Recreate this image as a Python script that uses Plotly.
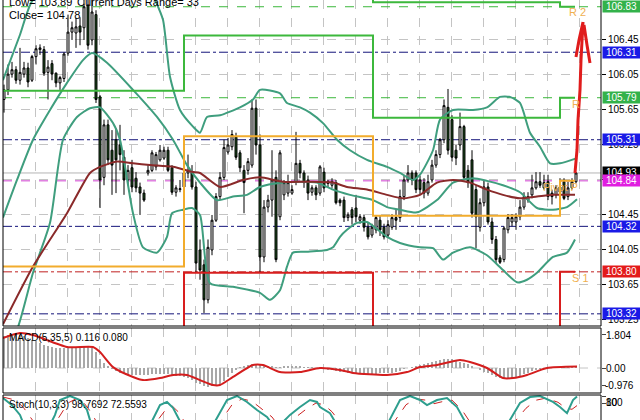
import plotly.graph_objects as go

# ---------------- data ----------------
bar_idx = list(range(144))
opens = [105.77,105.88,106.06,106.11,105.99,106.06,106.13,105.99,106.26,106.34,
         106.34,106.08,106.18,106.07,105.96,106.01,106.30,106.54,106.53,106.61,
         106.59,106.85,106.45,106.74,105.80,104.88,105.48,105.19,105.31,105.25,
         105.11,104.85,104.99,104.87,104.77,104.70,104.93,104.96,105.00,105.08,
         105.10,105.19,104.99,104.71,104.74,104.77,104.93,104.94,104.77,104.05,
         103.88,103.48,104.05,104.39,104.66,104.88,105.17,105.23,105.34,105.16,
         104.96,104.96,105.02,105.67,105.25,103.97,104.54,104.62,104.88,104.43,
         104.68,104.70,104.70,104.83,105.04,104.93,104.85,104.71,104.76,104.70,
         104.94,104.81,104.79,104.82,104.62,104.62,104.42,104.51,104.53,104.39,
         104.42,104.31,104.22,104.28,104.39,104.31,104.22,104.31,104.42,104.42,
         104.66,104.85,104.93,104.93,104.85,104.82,104.70,104.85,105.02,105.14,
         105.31,105.68,105.54,105.19,105.25,105.46,104.96,105.08,104.74,104.31,
         104.59,104.77,104.37,104.17,103.96,103.94,104.28,104.37,104.37,104.43,
         104.54,104.62,104.68,104.76,104.83,104.76,104.83,104.70,104.68,104.71,
         104.83,104.66,104.76,104.83]
highs = [105.94,106.17,106.20,106.15,106.36,106.20,106.19,106.28,106.39,106.40,
         106.38,106.22,106.22,106.08,106.04,106.31,106.74,106.66,106.70,106.71,
         106.96,107.00,106.96,106.79,105.82,105.54,105.54,105.42,105.44,105.48,
         105.19,105.02,105.08,104.94,104.82,104.74,105.02,105.19,105.17,105.25,
         105.23,105.23,105.02,104.79,104.85,105.02,105.14,105.02,104.83,104.17,
         103.94,104.17,104.45,104.70,104.94,105.31,105.33,105.42,105.39,105.19,
         105.02,105.10,105.77,105.77,105.37,104.62,104.68,105.19,104.96,105.19,
         104.85,104.91,104.79,105.40,105.08,104.96,104.90,104.79,104.79,105.02,
         104.99,104.85,104.87,104.85,104.64,104.66,104.48,104.54,104.68,104.46,
         104.45,104.37,104.35,104.45,104.44,104.35,104.39,104.46,104.51,104.74,
         104.91,105.02,104.96,104.96,104.90,104.87,104.91,105.08,105.19,105.33,
         105.77,105.89,105.59,105.25,105.62,105.48,105.02,105.19,104.79,104.64,
         104.85,104.82,104.42,104.21,103.99,104.32,104.46,104.46,104.47,104.62,
         104.71,104.71,104.91,104.94,104.94,104.91,104.91,104.74,104.79,104.87,
         104.87,104.83,104.87,104.94]
lows = [105.62,105.82,106.02,105.95,105.94,106.02,105.91,105.97,106.17,106.28,
        106.04,105.77,105.99,105.91,105.88,105.97,106.27,106.45,106.36,106.39,
        106.45,106.34,106.39,105.73,104.53,104.79,105.02,104.68,104.70,104.96,
        104.68,104.79,104.71,104.71,104.45,104.60,104.90,104.94,104.96,105.06,
        105.08,104.94,104.68,104.66,104.71,104.74,104.87,104.74,103.79,103.71,
        103.33,103.44,103.99,104.37,104.62,104.85,105.14,105.19,105.08,104.94,
        104.47,104.91,104.99,105.14,103.79,103.91,104.48,104.43,103.91,104.39,
        104.62,104.66,104.68,104.79,104.87,104.76,104.62,104.67,104.62,104.67,
        104.71,104.77,104.76,104.57,104.55,104.37,104.38,104.34,104.37,104.35,
        104.26,104.17,104.19,104.24,104.21,104.17,104.19,104.28,104.28,104.37,
        104.62,104.82,104.79,104.70,104.68,104.64,104.67,104.82,104.99,105.10,
        105.27,105.14,105.06,105.02,105.19,104.85,104.76,104.42,104.07,104.26,
        104.55,104.34,104.12,103.90,103.89,103.91,104.24,104.32,104.28,104.39,
        104.51,104.59,104.64,104.74,104.76,104.74,104.62,104.57,104.64,104.68,
        104.62,104.62,104.74,104.81]
closes = [105.88,106.06,106.11,105.99,106.08,106.13,105.97,106.26,106.35,106.36,
          106.07,106.14,106.06,105.96,106.02,106.29,106.54,106.59,106.60,106.54,
          106.83,106.39,106.77,105.77,104.85,105.48,105.08,105.02,105.08,105.14,
          104.85,104.96,104.77,104.76,104.70,104.62,104.96,105.16,105.14,105.19,
          105.19,104.96,104.71,104.76,104.75,104.93,104.96,104.77,103.90,103.82,
          103.48,104.08,104.39,104.66,104.88,105.22,105.25,105.37,105.11,104.99,
          104.82,105.06,105.67,105.25,103.97,104.54,104.62,104.85,103.94,105.16,
          104.82,104.82,104.74,105.04,104.93,104.82,104.70,104.76,104.68,105.00,
          104.76,104.83,104.83,104.59,104.59,104.42,104.45,104.42,104.43,104.43,
          104.31,104.20,104.31,104.42,104.28,104.20,104.34,104.42,104.39,104.66,
          104.85,104.93,104.85,104.74,104.74,104.70,104.83,105.02,105.14,105.31,
          105.70,105.19,105.11,105.10,105.46,104.88,104.82,104.47,104.43,104.59,
          104.77,104.37,104.17,103.94,103.91,104.30,104.42,104.42,104.43,104.54,
          104.66,104.66,104.76,104.83,104.79,104.82,104.66,104.66,104.76,104.77,
          104.64,104.76,104.83,104.93]

# Bollinger bands and moving average, read at sample bars
bb_up_idx = [-0.25,4,7.25,15,22.5,27,34,37.75,39.75,41.5,44,47.25,49,50.75,54,59,62.25,64,69,70.75,
             74,76.5,79.75,83.25,86.5,90.75,95.75,99,102.25,104,107.25,109,112.25,117.25,120.75,124,
             126.5,129,131.5,134,136.5,139,143.25]
bb_up_val = [105.99,106.51,106.91,107.08,106.96,107.14,107.25,106.91,106.68,106.03,105.65,105.46,105.39,
             105.57,105.59,105.68,105.77,105.88,105.84,105.73,105.68,105.62,105.50,105.31,105.19,105.08,
             105.00,104.93,104.85,104.91,105.19,105.54,105.65,105.65,105.68,105.80,105.80,105.73,105.39,
             105.23,105.04,105.04,105.10]
bb_mid_idx = [-0.25,3.25,7.25,11.5,15.75,19.75,22,25.75,32.25,38.25,42.25,45.75,49,53.25,57.25,60.75,64,
              69.75,74,78.25,82.25,86.5,92.25,95.75,99,103.25,108.25,112.25,117.25,120.75,124.75,129,
              133.25,137.25,140.75,143.25]
bb_mid_val = [104.42,104.85,105.31,105.65,105.96,106.22,106.30,106.19,105.88,105.57,105.31,105.02,104.82,
              104.62,104.66,104.68,104.77,104.82,104.83,104.82,104.74,104.68,104.62,104.54,104.51,104.48,
              104.62,104.82,104.87,104.84,104.79,104.71,104.53,104.51,104.54,104.63]
bb_low_idx = [-0.25,3.5,7.25,11.5,14.75,18.25,21.5,24,27.25,29,32.25,34.75,38.25,40.75,42,44.75,47,49,
              51.5,57.25,64,66.5,69,70.75,72.25,75.75,80.75,82.25,84,85.75,88.25,90.75,95.75,99,104,
              107.25,109.75,112.25,116.5,120.75,124.75,128.25,130.75,133.25,137.25,140.75,142.75]
bb_low_val = [102.84,103.17,103.79,104.36,105.31,105.57,105.67,105.68,105.50,105.31,104.47,104.08,104.02,
              104.20,104.47,104.51,104.53,104.45,103.67,103.63,103.56,103.48,103.59,103.86,104.02,104.03,
              104.05,104.08,104.20,104.28,104.36,104.37,104.20,104.13,104.08,104.07,103.94,104.02,104.08,
              103.99,103.82,103.68,103.71,103.79,103.97,104.02,104.17]
ma_idx = [-0.25,7.25,15.75,21.5,24,28.25,32.25,36.5,42.25,47.25,49,54,59.75,64,69.75,76.5,82.25,85.75,
          90.75,95.75,99.75,104,108.25,112.25,116.5,120.75,124.75,129,133.25,137.25,142.75]
ma_val = [103.20,103.86,104.47,104.93,105.00,105.06,105.04,105.02,105.00,104.94,104.93,104.77,104.85,
          104.88,104.83,104.83,104.82,104.77,104.74,104.68,104.64,104.68,104.82,104.85,104.82,104.74,
          104.68,104.64,104.66,104.68,104.68]

# daily pivot levels (day boundaries as bar positions)
day_edges = [-0.25, 45, 92.25, 139, 142.75]
pivot_r2 = [107.60, 107.90, 106.88, 106.83, 106.83]
pivot_r1 = [105.87, 106.50, 105.56, 105.79, 105.79]
pivot_pp = [103.86, 105.35, 104.44, 104.84, 104.84]
pivot_s1 = [102.60, 103.79, 103.05, 103.80, 103.80]

# horizontal level lines
navy_levels = [106.31, 105.31, 104.32, 103.32]
r_level_lines = [106.83, 105.79]
pivot_level = 104.84
s1_level = 103.80
bid_level = 104.93

main_ticks = [106.45, 106.05, 105.65, 105.25, 104.85, 104.45, 104.05, 103.65, 103.25]
main_tick_text = ["106.45", "106.05", "105.65", "105.25", "", "104.45", "104.05", "103.65", "103.25"]

price_labels = [("106.83", 106.83, "#33b24a"), ("106.31", 106.31, "#1a1ae6"), ("105.79", 105.79, "#33b24a"),
                ("105.31", 105.31, "#1a1ae6"), ("104.93", 104.93, "#000000"), ("104.84", 104.84, "#e01ee0"),
                ("104.32", 104.32, "#1a1ae6"), ("103.80", 103.80, "#e31a1a"), ("103.32", 103.32, "#1a1ae6")]

# MACD(5,35,5)
macd_hist = [1.75,1.8,1.85,1.85,1.8,1.75,1.65,1.55,1.45,
             1.35,1.25,1.2,1.15,1.1,1.1,1.1,1.1,
             1.15,1.15,1.15,1.2,1.15,1.1,
             0.85,0.5,0.3,0.1,-0.05,-0.15,
             -0.25,-0.3,-0.35,-0.38,-0.4,-0.4,-0.4,-0.38,-0.35,-0.33,-0.32,-0.32,-0.35,-0.4,-0.42,-0.45,-0.5,
             -0.55,-0.65,-0.8,-0.9,-1.0,-1.02,-1.0,-0.95,-0.85,-0.7,-0.5,
             -0.3,-0.1,0.05,0.1,0.15,0.2,
             0.2,0.15,0.1,0.1,0.1,0.05,0.05,0.1,0.1,0.1,0.12,0.1,0.08,0.05,0.03,0.02,0.0,
             -0.05,-0.1,-0.12,-0.15,-0.2,-0.22,-0.25,-0.27,-0.3,-0.3,-0.32,-0.32,-0.33,-0.33,-0.3,-0.3,-0.28,-0.25,-0.2,-0.15,
             -0.08,0.0,0.05,0.1,0.15,0.2,0.28,0.35,0.4,0.45,0.48,0.5,0.48,0.42,0.35,0.28,0.2,0.1,0.0,
             -0.1,-0.2,-0.3,-0.4,-0.5,-0.55,-0.6,-0.6,-0.58,-0.52,-0.45,-0.35,-0.25,-0.18,-0.12,-0.08,-0.04,0.0,
             0.03,0.05,0.06,0.07,0.08,0.1,0.116]
macd_sig_idx = [-0.25,4,7.25,15.75,22.25,24,27.25,32.25,34.75,39,42.25,45.75,49,52.25,54,57.25,62.25,64.75,
                69,74,79,84,87.25,95.75,100.75,104,108.25,114,116.5,120.75,124.75,127.25,130.75,135.75,143.25]
macd_sig_val = [1.64,1.91,1.80,1.15,1.15,0.87,0.05,-0.49,-0.66,-0.55,-0.38,-0.38,-0.66,-0.93,-0.93,-0.49,
                0.16,0.16,-0.22,-0.22,0.0,-0.11,-0.27,-0.38,-0.22,0.05,0.16,0.44,0.33,0.0,-0.55,-0.55,-0.38,
                0.0,0.08]

# Stochastic(10,3,3)
stoch_k_idx = [-0.25,2,4,5,11.5,12.75,14,16.5,19,20.75,21.5,22.25,36.5,39,40.75,42.25,44.5,52.25,55.75,58.25,
               60.75,63.25,65.75,67.25,69,71.5,74,76.5,78.25,79,81.5,83.25,95.75,99,101.5,104,105.75,108.25,
               110.75,113.25,115.75,125.75,129,131.5,134,137.25,139,140.75,142.25,143.25]
stoch_k_val = [94,74,46,17,17,46,88.6,100,88.6,60,31,17,17,74,83,66,17,17,88.6,100,83,60,40,17,17,46,68.5,
               88.6,83,68.5,51,17,17,88.6,100,88.6,74,88.6,94,68.5,17,17,80,97,100,83,68.5,51,88.6,98.77]
stoch_d_idx = [-0.25,3,5,6.5,8,12.5,14.5,16,18,20,22,23.5,37.5,40.5,42,44,45.5,53.5,57,59.5,62,64.5,67,68.5,
               70.5,73,75.5,78,80,82,84.5,97,100.5,103,105.5,107.5,110,112,114.5,117,127,130.5,133,135.5,
               138.5,140.5,142,143.25]
stoch_d_val = [97,88,65,40,17,17,55,80,92,80,50,17,17,62,72,50,17,17,75,92,85,62,40,17,17,40,62,80,75,55,17,
               17,75,92,88,78,85,88,60,17,17,65,88,94,82,65,62,72.56]

# ---------------- figure ----------------
FONT = "Liberation Sans, Arial, sans-serif"
GRID = "#c4c4c4"
TEAL = "#3f9e7e"

def px_x(p):
    return (p - 3) / 598.0

def px_y(p):
    return (420 - p) / 420.0

fig = go.Figure()

fig.add_trace(go.Candlestick(
    x=bar_idx, open=opens, high=highs, low=lows, close=closes,
    increasing=dict(line=dict(color="#000000", width=1), fillcolor="#ffffff"),
    decreasing=dict(line=dict(color="#000000", width=1), fillcolor="#1d4f1d"),
    whiskerwidth=0, showlegend=False, hoverinfo="skip", xaxis="x", yaxis="y"))

for xi, yv in ((bb_up_idx, bb_up_val), (bb_mid_idx, bb_mid_val), (bb_low_idx, bb_low_val)):
    fig.add_trace(go.Scatter(x=xi, y=yv, mode="lines", line=dict(color=TEAL, width=2, shape="spline", smoothing=0.6),
                             showlegend=False, hoverinfo="skip", xaxis="x", yaxis="y"))
fig.add_trace(go.Scatter(x=ma_idx, y=ma_val, mode="lines", line=dict(color="#8a2a2a", width=2, shape="spline", smoothing=0.6),
                         showlegend=False, hoverinfo="skip", xaxis="x", yaxis="y"))

for lv, col in ((pivot_r2, "#3cb83c"), (pivot_r1, "#3cb83c"), (pivot_pp, "#f2ac2c"), (pivot_s1, "#d81e1e")):
    fig.add_trace(go.Scatter(x=day_edges, y=lv, mode="lines", line=dict(color=col, width=2, shape="hv"),
                             showlegend=False, hoverinfo="skip", xaxis="x", yaxis="y"))

# MACD
fig.add_trace(go.Bar(x=bar_idx, y=macd_hist, marker=dict(color="#a8a8a8", line=dict(width=0)), width=0.45,
                     showlegend=False, hoverinfo="skip", xaxis="x2", yaxis="y2"))
fig.add_trace(go.Scatter(x=macd_sig_idx, y=macd_sig_val, mode="lines",
                         line=dict(color="#d41e1e", width=2, shape="spline", smoothing=0.6),
                         showlegend=False, hoverinfo="skip", xaxis="x2", yaxis="y2"))

# Stochastic
fig.add_trace(go.Scatter(x=stoch_d_idx, y=stoch_d_val, mode="lines",
                         line=dict(color="#cc2222", width=1, dash="dash"),
                         showlegend=False, hoverinfo="skip", xaxis="x3", yaxis="y3"))
fig.add_trace(go.Scatter(x=stoch_k_idx, y=stoch_k_val, mode="lines",
                         line=dict(color="#2e9e8e", width=2),
                         showlegend=False, hoverinfo="skip", xaxis="x3", yaxis="y3"))

shapes = []
x0, x1 = -0.25, 149.25
for v in navy_levels:
    shapes.append(dict(type="line", xref="x", yref="y", x0=x0, x1=x1, y0=v, y1=v, layer="between",
                       line=dict(color="#14147a", width=1, dash="dashdot")))
for v in r_level_lines:
    shapes.append(dict(type="line", xref="x", yref="y", x0=x0, x1=x1, y0=v, y1=v, layer="between",
                       line=dict(color="#3cb83c", width=1, dash="dash")))
shapes.append(dict(type="line", xref="x", yref="y", x0=x0, x1=x1, y0=pivot_level, y1=pivot_level, layer="between",
                   line=dict(color="#d040d0", width=1, dash="dash")))
shapes.append(dict(type="line", xref="x", yref="y", x0=x0, x1=x1, y0=s1_level, y1=s1_level, layer="between",
                   line=dict(color="#c02020", width=1, dash="dashdot")))
shapes.append(dict(type="line", xref="x", yref="y", x0=x0, x1=x1, y0=bid_level, y1=bid_level, layer="between",
                   line=dict(color="#b4b4b4", width=1)))
shapes.append(dict(type="line", xref="x2", yref="y2", x0=x0, x1=x1, y0=0, y1=0, layer="between",
                   line=dict(color=GRID, width=1, dash="dash")))

# panel borders
def rect(top, bottom):
    return dict(type="rect", xref="paper", yref="paper", x0=0, x1=1, y0=px_y(bottom), y1=px_y(top),
                line=dict(color="#000000", width=1), layer="above")
shapes.append(rect(-2, 326))
shapes.append(rect(328, 393))
shapes.append(dict(type="path", xref="paper", yref="paper",
                   path=f"M 0 {px_y(425)} L 0 {px_y(395)} L 1 {px_y(395)} L 1 {px_y(425)}",
                   line=dict(color="#000000", width=1), layer="above"))

# hand-drawn red arrow
ax = [575, 577, 578, 580, 581, 583]
ay = [173, 150, 120, 90, 60, 22]
path = "M " + " L ".join(f"{px_x(a)} {px_y(b)}" for a, b in zip(ax, ay))
path += f" M {px_x(583)} {px_y(22)} L {px_x(579)} {px_y(40)} L {px_x(576)} {px_y(57)}"
path += f" M {px_x(584)} {px_y(25)} L {px_x(587)} {px_y(45)} L {px_x(590)} {px_y(63)}"
shapes.append(dict(type="path", xref="paper", yref="paper", path=path,
                   line=dict(color="#e01c1c", width=3), layer="above"))

annotations = []
for txt, v, col in price_labels:
    annotations.append(dict(x=px_x(602), xref="paper", y=v, yref="y", xanchor="left", yanchor="middle",
                            text=txt, showarrow=False, bgcolor=col, borderpad=0, width=37, height=11,
                            align="center", font=dict(family=FONT, size=10, color="#ffffff")))

def label(txt, xp, yp, size=10, color="#000000", anchor="left"):
    annotations.append(dict(x=px_x(xp), xref="paper", y=px_y(yp), yref="paper", xanchor=anchor,
                            yanchor="middle", text=txt, showarrow=False,
                            font=dict(family=FONT, size=size, color=color)))

label("Low= 103.89", 7, 2, 11)
label("Current Days Range= 33", 75, 2, 11)
label("Close= 104.78", 7, 15, 11)
label("MACD(5,35,5) 0.116 0.080", 7, 337, 10)
label("Stoch(10,3,3) 98.7692 72.5593", 7, 404, 10)
label("R 2", 567, 12, 11, "#f0b050")
label("R", 570, 104, 11, "#f0b050")
label("Pivot P", 580, 187, 11, "#f0b050", "right")
label("S 1", 570, 278, 11, "#f0b050")
label("1.804", 604, 335, 10)
label("0.00", 604, 368, 10)
label("-0.976", 603, 385, 10)
label("100", 604, 402, 10)
label("80", 604, 402, 10)

xcommon = dict(range=[x0, x1], showticklabels=False, showgrid=True, gridcolor=GRID, griddash="dash",
               gridwidth=1, tick0=7.8, dtick=8, zeroline=False, showline=False, ticks="")

fig.update_layout(
    width=640, height=420,
    margin=dict(l=3, r=39, t=0, b=0),
    paper_bgcolor="#ffffff", plot_bgcolor="#ffffff",
    showlegend=False, bargap=0,
    font=dict(family=FONT, size=10, color="#000000"),
    xaxis=dict(domain=[0, 1], anchor="y", rangeslider=dict(visible=False), **xcommon),
    xaxis2=dict(domain=[0, 1], anchor="y2", matches="x", **xcommon),
    xaxis3=dict(domain=[0, 1], anchor="y3", matches="x", **xcommon),
    yaxis=dict(domain=[px_y(326), 1], range=[103.181, 106.907], side="right", anchor="x",
               tickvals=main_ticks, ticktext=main_tick_text, ticks="outside", ticklen=4, tickcolor="#000",
               showgrid=True, gridcolor=GRID, griddash="dash", zeroline=False, automargin=False,
               tickfont=dict(family=FONT, size=10, color="#000")),
    yaxis2=dict(domain=[px_y(393), px_y(328)], range=[-1.366, 2.186], side="right", anchor="x2",
                tickvals=[1.804, 0, -0.976], ticktext=["", "", ""], ticks="outside", ticklen=4,
                showgrid=False, zeroline=False, automargin=False),
    yaxis3=dict(domain=[0, px_y(395)], range=[31.4, 102.86], side="right", anchor="x3",
                tickvals=[100, 80], ticktext=["", ""], ticks="outside", ticklen=4,
                showgrid=False, zeroline=False, automargin=False),
    shapes=shapes, annotations=annotations,
)

fig.write_html("out.html", config={"displayModeBar": False, "staticPlot": True},
               post_script="document.body.style.margin='0px';document.body.style.overflow='hidden';")
